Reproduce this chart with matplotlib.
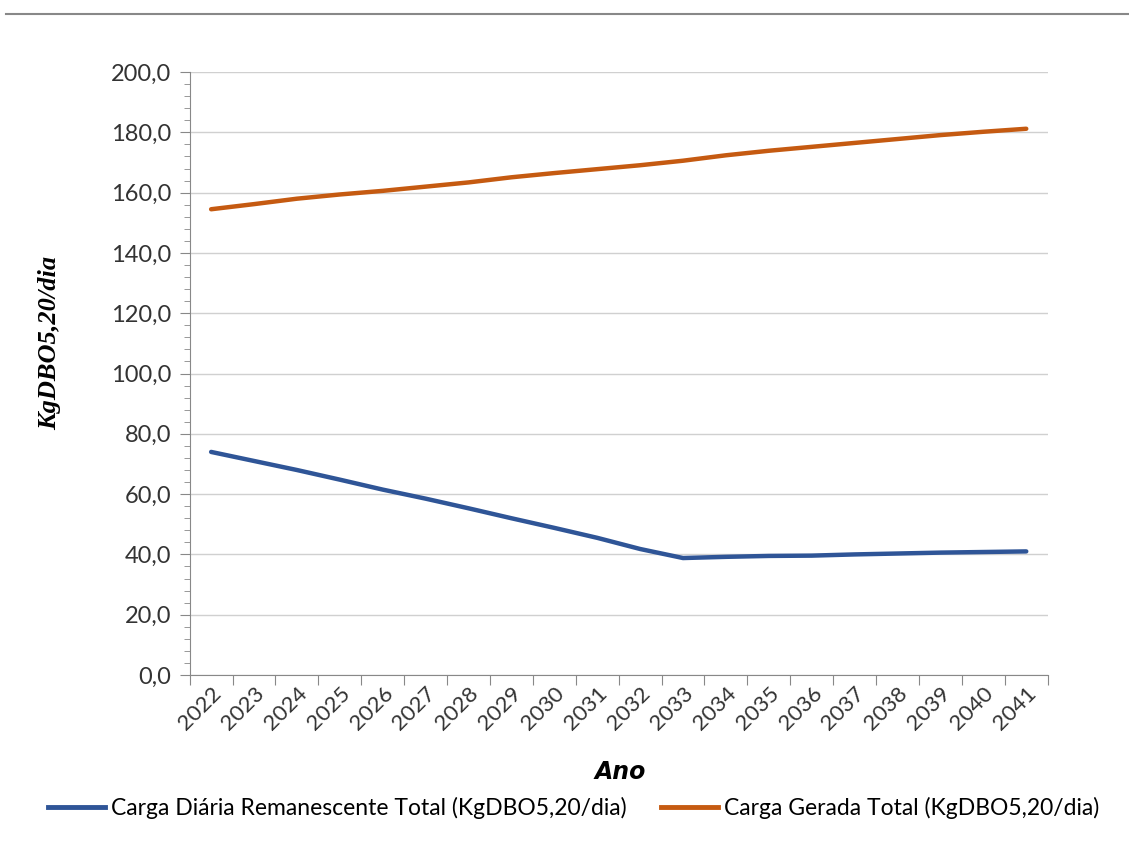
import matplotlib.pyplot as plt
from matplotlib.ticker import MultipleLocator, FuncFormatter
from matplotlib.lines import Line2D

anos = [str(a) for a in range(2022, 2042)]
carga_remanescente = [74.0, 71.0, 68.0, 64.8, 61.5, 58.5, 55.3, 52.0, 48.8, 45.5,
                      41.8, 38.8, 39.2, 39.5, 39.6, 40.0, 40.3, 40.6, 40.8, 41.0]
carga_gerada = [154.5, 156.2, 158.0, 159.4, 160.6, 162.0, 163.4, 165.1, 166.5, 167.8,
                169.1, 170.6, 172.4, 173.9, 175.2, 176.5, 177.8, 179.1, 180.2, 181.2]
nomes = ["Carga Diária Remanescente Total (KgDBO5,20/dia)",
         "Carga Gerada Total (KgDBO5,20/dia)"]
cores = ["#2F5597", "#C55A11"]

plt.rcParams['font.family'] = ['Lato', 'DejaVu Sans']

fig = plt.figure(figsize=(11.29, 8.48), dpi=100)
ax = fig.add_axes([0.168, 0.204, 0.76, 0.711])

x = range(len(anos))
ax.plot(x, carga_remanescente, color=cores[0], lw=3.2, solid_capstyle='round')
ax.plot(x, carga_gerada, color=cores[1], lw=3.2, solid_capstyle='round')

ax.set_xlim(-0.5, len(anos) - 0.5)
ax.set_ylim(0, 200)
ax.yaxis.set_major_locator(MultipleLocator(20))
ax.yaxis.set_minor_locator(MultipleLocator(4))
ax.yaxis.set_major_formatter(FuncFormatter(lambda v, p: f"{v:.1f}".replace('.', ',')))
ax.grid(axis='y', color='#d0d0d0', lw=1)
ax.set_axisbelow(True)

# ticks between categories, labels at centres
ax.set_xticks([i - 0.5 for i in range(len(anos) + 1)])
ax.set_xticklabels([])
ax.set_xticks(list(x), minor=True)
ax.set_xticklabels(anos, minor=True, rotation=45, ha='right', rotation_mode='anchor',
                   fontsize=16, color='#333333')
ax.tick_params(axis='x', which='major', length=7, color='#888888', direction='out')
ax.tick_params(axis='x', which='minor', length=0, pad=6)
ax.tick_params(axis='y', which='major', length=7, color='#888888', labelsize=17,
               labelcolor='#333333', pad=6)
ax.tick_params(axis='y', which='minor', length=4, color='#888888')

for s in ['top', 'right']:
    ax.spines[s].set_visible(False)
for s in ['left', 'bottom']:
    ax.spines[s].set_color('#888888')

ax.set_ylabel("KgDBO5,20/dia", fontsize=19, family='Liberation Serif',
              fontweight='bold', style='italic')
ax.yaxis.set_label_coords(-0.15, 0.55)
fig.text(0.549, 0.09, "Ano", fontsize=17, family='Liberation Sans Narrow',
         fontweight='bold', style='italic', ha='center', va='center')

handles = [Line2D([], [], color=c, lw=3.5) for c in cores]
fig.legend(handles, nomes, loc='center', bbox_to_anchor=(0.508, 0.047), ncol=2,
           frameon=False, fontsize=16.5, handlelength=2.5, handletextpad=0.26,
           columnspacing=1.5)

fig.add_artist(Line2D([0.005, 1.0], [0.983, 0.983], color='#888888', lw=1.5))

fig.savefig("out.png", dpi=100)
